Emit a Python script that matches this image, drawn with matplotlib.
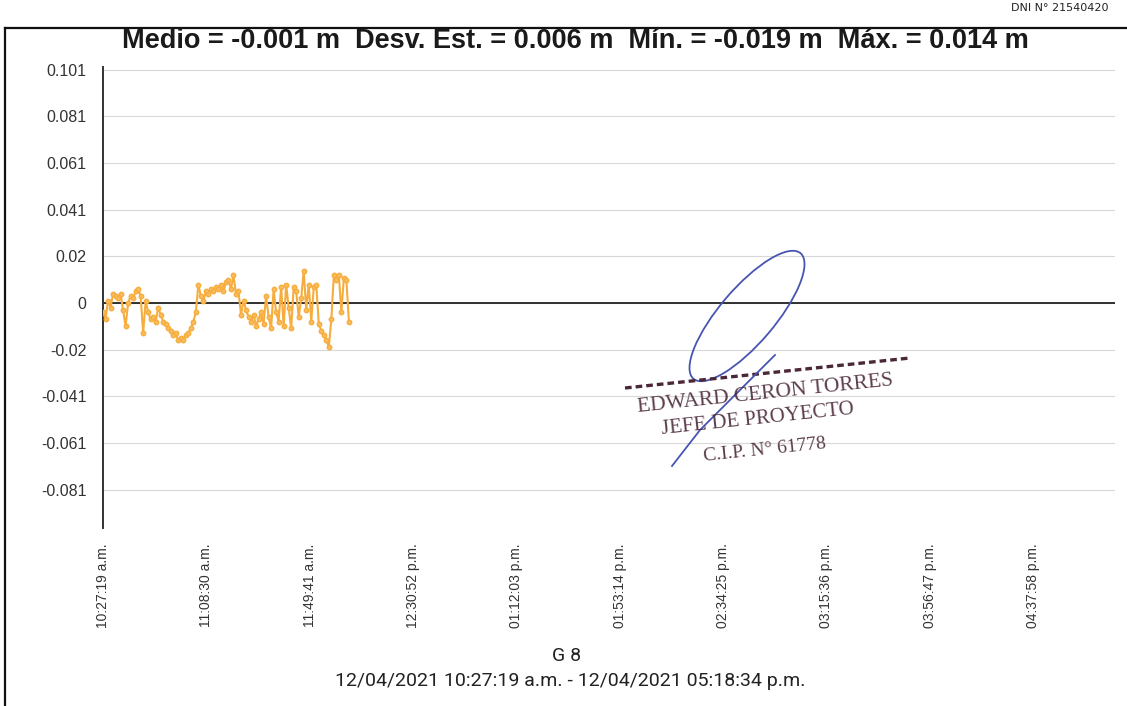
import numpy as np
import matplotlib.pyplot as plt
from matplotlib.patches import Ellipse
from matplotlib.transforms import IdentityTransform

# ---- datos (minutos desde 10:27:19, desplazamiento en m) ----
minutos = list(range(0, 99))
desplaz = [-0.004, -0.007, 0.001, -0.002, 0.004, 0.003, 0.002, 0.004, -0.003, -0.010,
           0.000, 0.003, 0.002, 0.005, 0.006, 0.003, -0.013, 0.001, -0.004, -0.007,
           -0.006, -0.008, -0.002, -0.005, -0.008, -0.009, -0.011, -0.012, -0.014, -0.013,
           -0.016, -0.015, -0.016, -0.014, -0.013, -0.011, -0.008, -0.004, 0.008, 0.003,
           0.001, 0.005, 0.004, 0.006, 0.005, 0.007, 0.006, 0.008, 0.005, 0.009,
           0.010, 0.006, 0.012, 0.004, 0.005, -0.005, 0.001, -0.003, -0.006, -0.008,
           -0.005, -0.010, -0.007, -0.004, -0.009, 0.003, -0.006, -0.011, 0.006, -0.004,
           -0.008, 0.007, -0.010, 0.008, -0.002, -0.011, 0.007, 0.005, -0.006, 0.002,
           0.014, -0.003, 0.008, -0.008, 0.007, 0.008, -0.009, -0.012, -0.014, -0.016,
           -0.019, -0.007, 0.012, 0.010, 0.012, -0.004, 0.011, 0.010, -0.008]

paso_seg = 2471  # 41:11 entre etiquetas
xtick_labels = ["10:27:19 a.m.", "11:08:30 a.m.", "11:49:41 a.m.", "12:30:52 p.m.",
                "01:12:03 p.m.", "01:53:14 p.m.", "02:34:25 p.m.", "03:15:36 p.m.",
                "03:56:47 p.m.", "04:37:58 p.m."]
ytick_vals = [0.101 * k / 5 for k in range(5, -5, -1)]
ytick_labels = ["0.101", "0.081", "0.061", "0.041", "0.02", "0",
                "-0.02", "-0.041", "-0.061", "-0.081"]

titulo = "Medio = -0.001 m  Desv. Est. = 0.006 m  Mín. = -0.019 m  Máx. = 0.014 m"
W, H = 1127, 706


def px(x, y):
    return x / W, 1 - y / H


fig = plt.figure(figsize=(W / 100, H / 100), dpi=100)
ax = fig.add_axes([103 / W, 1 - 528 / H, (1115 - 103) / W, (528 - 67) / H])

x = np.array(minutos) * 60
ax.plot(x, desplaz, color="#F6AD3E", lw=1.5, marker="o", ms=3.2,
        mec="#F6AD3E", mfc="#F8BE5E", zorder=3)
ax.axhline(0, color="#222222", lw=1.3, zorder=2)

ax.set_xlim(0, 24200)
ax.set_ylim(-0.0974, 0.1022)
ax.set_yticks(ytick_vals)
ax.set_yticklabels(ytick_labels, fontsize=11.5, color="#333333",
                   family=["Liberation Sans", "DejaVu Sans"])
ax.set_xticks([k * paso_seg for k in range(10)])
ax.set_xticklabels(xtick_labels, rotation=90, fontsize=10, color="#333333",
                   family=["Liberation Sans Narrow", "Liberation Sans"], va="top")
ax.tick_params(axis="both", length=0)
ax.tick_params(axis="y", pad=12)
ax.tick_params(axis="x", pad=11)
ax.grid(axis="y", color="#d8d8d8", lw=0.8)
for s in ["top", "right", "bottom"]:
    ax.spines[s].set_visible(False)
ax.spines["left"].set_color("#333333")
ax.spines["left"].set_linewidth(1.4)

# titulo y pie
fig.text(*px(575, 41), titulo, ha="center", va="center", fontsize=19.5,
         fontweight="bold", color="#1a1a1a", family=["Liberation Sans", "DejaVu Sans"])
fig.text(*px(567, 656), "G 8", ha="center", va="center", fontsize=14,
         color="#222222", family=["Roboto", "DejaVu Sans"])
fig.text(*px(570, 681), "12/04/2021 10:27:19 a.m. - 12/04/2021 05:18:34 p.m.",
         ha="center", va="center", fontsize=14, color="#222222",
         family=["Roboto", "DejaVu Sans"])

# marco del documento
fig.add_artist(plt.Line2D([5 / W, 1], [1 - 28 / H] * 2, color="#111111", lw=1.6))
fig.add_artist(plt.Line2D([5 / W] * 2, [0, 1 - 28 / H], color="#111111", lw=1.6))
fig.text(*px(1060, 8), "DNI N° 21540420", ha="center", va="center", fontsize=8,
         color="#222222")

# sello
sello = "#4a2838"
fig.add_artist(plt.Line2D([625 / W, 910 / W], [1 - 388 / H, 1 - 358 / H],
                          color=sello, lw=2.4, ls=(0, (2, 1.2))))
for (sx, sy, txt, fs) in [(765, 394, "EDWARD CERON TORRES", 15.5),
                          (758, 419, "JEFE DE PROYECTO", 15),
                          (765, 450, "C.I.P. N° 61778", 14)]:
    fig.text(*px(sx, sy), txt, ha="center", va="center", fontsize=fs,
             color=sello, family=["Liberation Serif", "DejaVu Serif"],
             rotation=6, alpha=0.9)

# firma
firma = "#4855b0"
fig.add_artist(Ellipse((747, H - 316), 165, 55, angle=49.5,
                       transform=IdentityTransform(), fill=False, ec=firma, lw=1.3))
fig.add_artist(plt.Line2D([775 / W, 700 / W, 672 / W],
                          [1 - 355 / H, 1 - 430 / H, 1 - 466 / H],
                          color=firma, lw=1.3))

fig.savefig("out.png", dpi=100)
